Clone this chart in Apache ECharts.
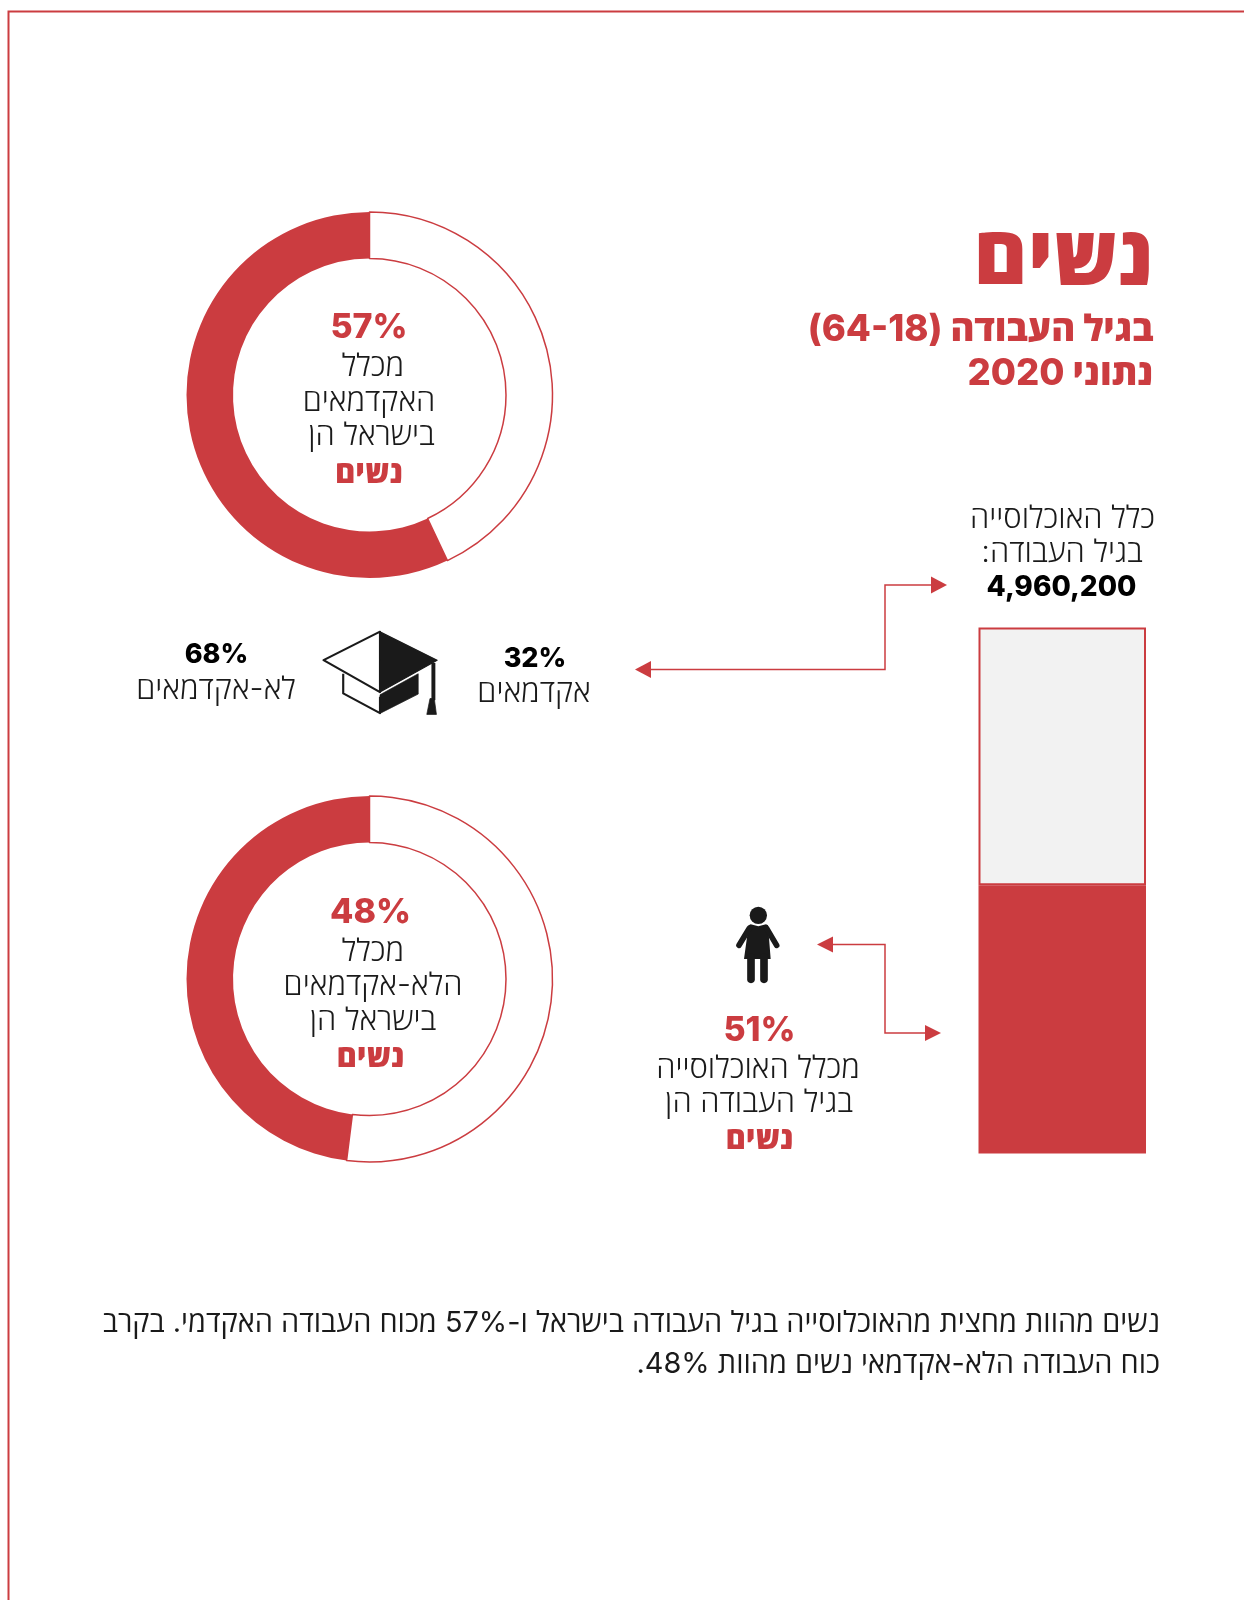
<!DOCTYPE html>
<html lang="he" dir="rtl">
<head>
<meta charset="utf-8">
<title>נשים</title>
<script src="https://cdn.jsdelivr.net/npm/echarts@6/dist/echarts.min.js"></script>
<style>
  html, body { margin: 0; padding: 0; background: #fff; }
  #main { position: absolute; left: 0; top: 0; width: 1244px; height: 1600px; }
</style>
</head>
<body>
<div id="main"></div>
<script>
// נתונים
var academicShare = [57, 43];
var nonAcademicShare = [48, 52];
var populationCategories = ['כלל האוכלוסייה'];
var womenShare = [51];
var otherShare = [49];
var degreeShare = { academic: 32, nonAcademic: 68 };
var totalPopulation = '4,960,200';

var RED = '#cb3c40';
var INK = '#1a1a1a';
var FONT = 'Inter, "Open Sans", "Liberation Sans", sans-serif';

var chart = echarts.init(document.getElementById('main'));

// טקסט לפי קו בסיס
function label(str, x, base, size, weight, color, align) {
  return {
    type: 'text',
    silent: true,
    x: x,
    y: base - size * 0.32 + 1.5,
    style: {
      text: str,
      fill: color || INK,
      font: (weight || 300) + ' ' + size + 'px ' + FONT,
      textAlign: align || 'center',
      verticalAlign: 'middle'
    }
  };
}

function donut(values, cy) {
  return {
    type: 'pie',
    silent: true,
    clockwise: false,
    startAngle: 90,
    center: [369.5, cy],
    radius: [136.5, 183],
    label: { show: false },
    labelLine: { show: false },
    data: [
      { value: values[0], itemStyle: { color: RED, borderColor: RED, borderWidth: 0 } },
      { value: values[1], itemStyle: { color: '#fff', borderColor: RED, borderWidth: 1.5 } }
    ]
  };
}

function arrowLine(points) {
  return { type: 'polyline', silent: true, shape: { points: points }, style: { stroke: RED, lineWidth: 1.5, fill: null } };
}
function head(points) {
  return { type: 'polygon', silent: true, shape: { points: points }, style: { fill: RED } };
}

// כובע בוגרים
var cap = {
  type: 'group', x: 120, y: 598.5, scaleX: 1 / 2.8, scaleY: 1 / 2.95, silent: true,
  children: [
    { type: 'polygon', shape: { points: [[728, 98], [570, 182], [728, 276]] },
      style: { fill: '#fff', stroke: INK, lineWidth: 6, lineJoin: 'round' } },
    { type: 'polygon', shape: { points: [[728, 98], [888, 182], [728, 276]] },
      style: { fill: INK, stroke: INK, lineWidth: 3, lineJoin: 'round' } },
    { type: 'polyline', shape: { points: [[625, 222], [625, 280], [728, 338], [728, 290]] },
      style: { fill: null, stroke: INK, lineWidth: 6, lineJoin: 'round' } },
    { type: 'polygon', shape: { points: [[728, 284], [835, 222], [835, 282], [728, 339]] },
      style: { fill: INK, stroke: INK, lineWidth: 2, lineJoin: 'round' } },
    { type: 'rect', shape: { x: 872, y: 190, width: 11, height: 110 }, style: { fill: INK } },
    { type: 'polygon', shape: { points: [[868, 295], [880, 295], [886, 342], [859, 342]] },
      style: { fill: INK, stroke: INK, lineWidth: 2, lineJoin: 'round' } }
  ]
};

// דמות אישה
var woman = {
  type: 'group', x: 640, y: 880, scaleX: 1 / 3, scaleY: 1 / 3, silent: true,
  children: [
    { type: 'circle', shape: { cx: 355, cy: 106, r: 26 }, style: { fill: INK } },
    { type: 'polygon', shape: { points: [[332, 133], [355, 139], [378, 133], [384, 136], [392, 237], [312, 237], [326, 136]] }, style: { fill: INK } },
    { type: 'polyline', shape: { points: [[328, 145], [297, 196]] }, style: { stroke: INK, lineWidth: 17, lineCap: 'round', fill: null } },
    { type: 'polyline', shape: { points: [[380, 145], [410, 196]] }, style: { stroke: INK, lineWidth: 17, lineCap: 'round', fill: null } },
    { type: 'polyline', shape: { points: [[333, 232], [333, 298]] }, style: { stroke: INK, lineWidth: 23, lineCap: 'round', fill: null } },
    { type: 'polyline', shape: { points: [[372, 232], [372, 298]] }, style: { stroke: INK, lineWidth: 23, lineCap: 'round', fill: null } }
  ]
};

var graphics = [
  // מסגרת
  { type: 'polyline', silent: true, shape: { points: [[8.5, 1600], [8.5, 11.5], [1244, 11.5]] }, style: { stroke: RED, lineWidth: 2, fill: null } },

  label('נשים', 1154, 285, 82, 800, RED, 'right'),
  label('בגיל העבודה (64-18)', 1153.5, 340, 36.5, 800, RED, 'right'),
  label('נתוני 2020', 1153.5, 384, 36.5, 800, RED, 'right'),

  label(academicShare[0] + '%', 369, 337, 34, 800, RED),
  label('מכלל', 373, 375, 31),
  label('האקדמאים', 369, 410, 31),
  label('בישראל הן', 371.5, 444, 31),
  label('נשים', 369, 482, 31, 800, RED),

  label(nonAcademicShare[0] + '%', 370.5, 922, 34, 800, RED),
  label('מכלל', 373, 960, 31),
  label('הלא-אקדמאים', 373, 994.5, 31),
  label('בישראל הן', 373, 1029, 31),
  label('נשים', 370.5, 1066.5, 31, 800, RED),

  label(degreeShare.nonAcademic + '%', 216.5, 662, 27, 800, '#000'),
  label('לא-אקדמאים', 216, 698.5, 31),
  label(degreeShare.academic + '%', 535, 666, 27, 800, '#000'),
  label('אקדמאים', 534, 701, 31),

  label('כלל האוכלוסייה', 1062.5, 527, 31),
  label('בגיל העבודה:', 1062, 561, 31),
  label(totalPopulation, 1061.5, 595, 28, 800, '#000'),

  label(womenShare[0] + '%', 759.5, 1040.5, 34, 800, RED),
  label('מכלל האוכלוסייה', 758, 1077.5, 31),
  label('בגיל העבודה הן', 759, 1111.5, 31),
  label('נשים', 759.5, 1148, 31, 800, RED),

  label('נשים מהוות מחצית מהאוכלוסייה בגיל העבודה בישראל ו-57% מכוח העבודה האקדמי. בקרב', 1160, 1331, 28.9, 400, INK, 'right'),
  label('כוח העבודה הלא-אקדמאי נשים מהוות 48%.', 1160, 1372, 28.9, 400, INK, 'right'),

  // חיצים
  arrowLine([[650, 669.5], [885, 669.5], [885, 585], [932, 585]]),
  head([[635, 669.5], [651, 661], [651, 678]]),
  head([[947, 585], [931, 576.5], [931, 593.5]]),
  arrowLine([[832, 944.5], [885, 944.5], [885, 1033], [926, 1033]]),
  head([[817, 944.5], [833, 936.5], [833, 952.5]]),
  head([[941, 1033], [925, 1025], [925, 1041]]),

  cap,
  woman
];

var option = {
  animation: false,
  tooltip: { show: false },
  grid: { left: 978.5, top: 627.5, width: 167.5, height: 526 },
  xAxis: { type: 'category', data: populationCategories, show: false },
  yAxis: { type: 'value', min: 0, max: 100, show: false },
  series: [
    donut(academicShare, 395),
    donut(nonAcademicShare, 979),
    {
      type: 'bar', stack: 'pop', barWidth: '100%', silent: true,
      data: womenShare,
      itemStyle: { color: RED }
    },
    {
      type: 'bar', stack: 'pop', barWidth: '100%', silent: true,
      data: otherShare,
      itemStyle: { color: '#f2f2f2', borderColor: RED, borderWidth: 2 }
    }
  ],
  graphic: { elements: graphics }
};

chart.setOption(option);
</script>
</body>
</html>
